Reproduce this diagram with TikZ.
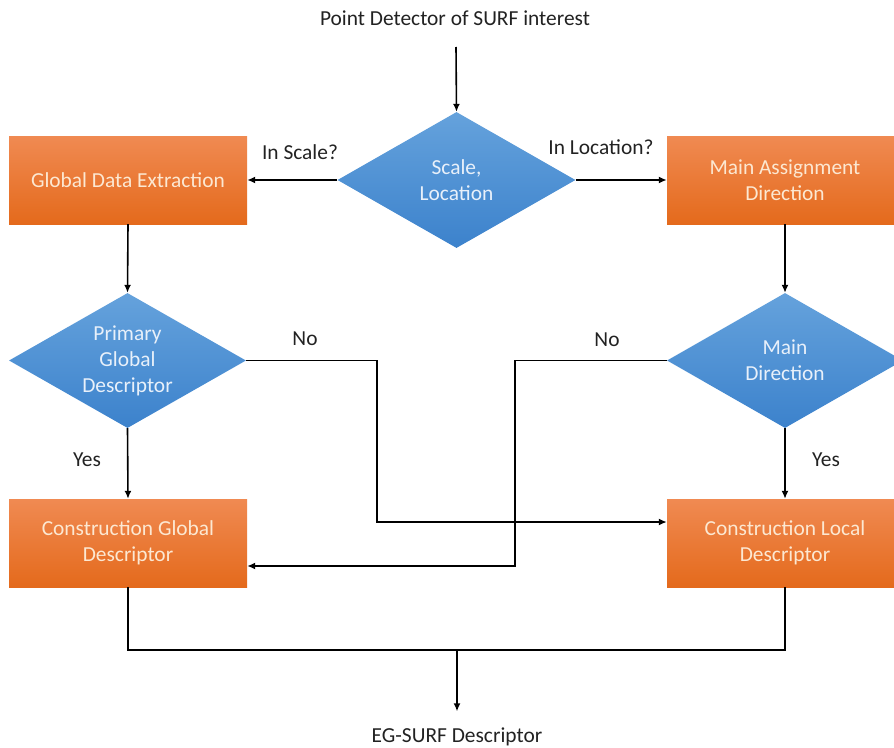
\documentclass[tikz,border=0pt]{standalone}
\usepackage{fontspec}
\setmainfont{Carlito}
\usetikzlibrary{shapes.geometric,arrows.meta}

\definecolor{orangetop}{RGB}{240,138,82}
\definecolor{orangebot}{RGB}{228,106,28}
\definecolor{bluetop}{RGB}{101,162,220}
\definecolor{bluebot}{RGB}{60,130,204}
\definecolor{boxtext}{RGB}{252,232,210}
\definecolor{dtext}{RGB}{232,240,250}
\definecolor{ink}{RGB}{34,34,34}

\tikzset{
  every node/.style={font=\fontsize{21.4}{26}\selectfont, text=ink},
  procbox/.style={rectangle, draw=none, top color=orangetop, bottom color=orangebot,
    minimum height=88pt, align=center, text=boxtext, inner sep=0pt},
  decision/.style={diamond, aspect=1.75, draw=none, top color=bluetop, bottom color=bluebot,
    minimum width=238pt, minimum height=136pt, align=center, text=dtext, inner sep=0pt},
  conn/.style={line width=1.6pt, draw=black},
  arr/.style={conn, -{Latex[length=8pt,width=7pt]}},
  lbl/.style={text=ink}
}

\begin{document}
\begin{tikzpicture}[x=1pt,y=1pt]
  \useasboundingbox (0,0) rectangle (894,-747);
  \clip (0,0) rectangle (894,-747);

  % terminal texts
  \node (start) at (455,-18) {Point Detector of SURF interest};
  \node (finish) at (457,-737) {EG-SURF Descriptor};
  \coordinate (startend) at (456,-47);

  % first decision and the two branches
  \node[decision] (scaleloc) at (456.5,-180) {Scale,\\Location};
  \node[procbox, minimum width=238pt] (gde) at (128,-180) {Global Data Extraction};
  \node[procbox, minimum width=236pt] (mad) at (785,-180) {Main Assignment\\Direction};

  % second-level decisions
  \node[decision, minimum width=237pt, minimum height=135pt] (pgd) at (127.5,-360.5) {Primary\\Global\\Descriptor};
  \node[decision, minimum width=236pt, minimum height=135pt] (md) at (785,-360.5) {Main\\Direction};

  % construction steps
  \node[procbox, minimum width=238pt] (cgd) at (128,-543) {Construction Global\\Descriptor};
  \node[procbox, minimum width=236pt] (cld) at (785,-543) {Construction Local\\Descriptor};

  % connectors
  \draw[arr] (startend) -- (scaleloc.north);
  \draw[arr] (scaleloc.west) -- (gde.east);
  \draw[arr] (scaleloc.east) -- (mad.west);
  \draw[arr] (gde.south) -- (pgd.north);
  \draw[arr] (mad.south) -- (md.north);
  \draw[arr] (pgd.south) -- (cgd.north);
  \draw[arr] (md.south) -- (cld.north);

  % "No" branches crossing over
  \coordinate (noL) at (377,-360.5);
  \coordinate (noR) at (515,-360.5);
  \draw[arr] (pgd.east) -- (noL) |- ([yshift=21pt]cld.west);
  \draw[arr] (md.west) -- (noR) |- ([yshift=-23pt]cgd.east);

  % merge into the final descriptor
  \coordinate (join) at (457,-650);
  \draw[conn] (cgd.south) |- (join) -| (cld.south);
  \draw[arr, shorten >=13pt] (join) -- (finish.north);

  % branch labels
  \node[lbl] (lscale) at (300,-152) {In Scale?};
  \node[lbl] (lloc) at (601,-147) {In Location?};
  \node[lbl] (lnoL) at (305,-339) {No};
  \node[lbl] (lnoR) at (607,-340) {No};
  \node[lbl] (lyesL) at (87,-460) {Yes};
  \node[lbl] (lyesR) at (826,-460) {Yes};
\end{tikzpicture}
\end{document}
